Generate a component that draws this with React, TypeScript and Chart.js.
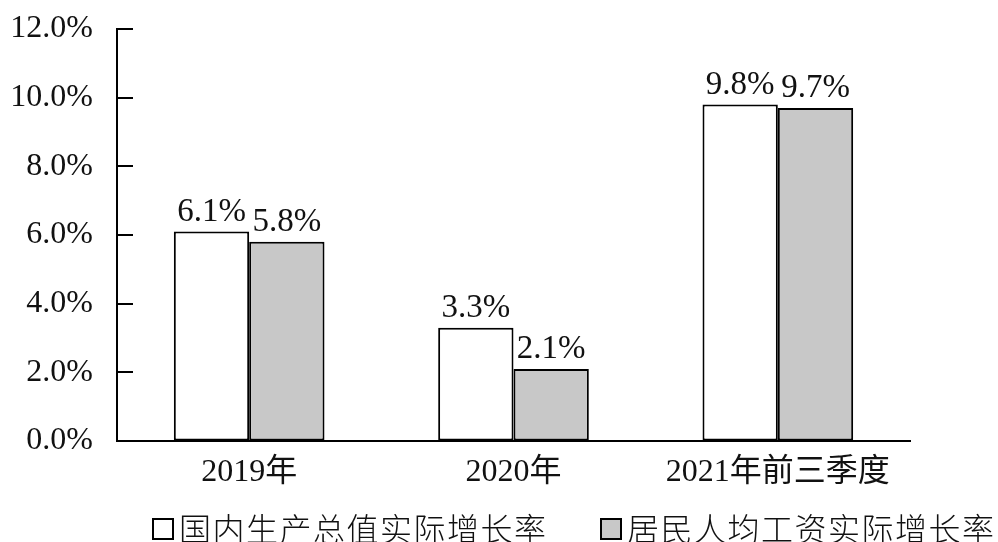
import React, { useEffect, useRef } from "react";
import { Chart, registerables } from "chart.js";

Chart.register(...registerables);

const categories = ["2019年", "2020年", "2021年前三季度"];
const gdpGrowth = [6.1, 3.3, 9.8];
const wageGrowth = [5.8, 2.1, 9.7];
const seriesNames = ["国内生产总值实际增长率", "居民人均工资实际增长率"];
const seriesColors = ["#ffffff", "#c8c8c8"];
const yMin = 0;
const yMax = 12;
const yStep = 2;

const SERIF = '"Liberation Serif", "Times New Roman", "Noto Sans CJK SC", serif';
const CJK = '"Noto Sans CJK SC", "Liberation Serif", sans-serif';

const valueLabelPlugin = {
  id: "valueLabels",
  afterDatasetsDraw(chart: any) {
    const ctx = chart.ctx;
    ctx.save();
    ctx.font = `33px ${SERIF}`;
    ctx.fillStyle = "#111";
    ctx.textAlign = "center";
    ctx.textBaseline = "alphabetic";
    chart.data.datasets.forEach((ds: any, di: number) => {
      const meta = chart.getDatasetMeta(di);
      meta.data.forEach((bar: any, i: number) => {
        const v = ds.data[i];
        ctx.fillText(v.toFixed(1) + "%", bar.x, bar.y - 11);
      });
    });
    ctx.restore();
  },
};

const innerTicksPlugin = {
  id: "innerTicks",
  afterDraw(chart: any) {
    const ctx = chart.ctx;
    const y = chart.scales.y;
    const left = chart.chartArea.left;
    ctx.save();
    ctx.strokeStyle = "#000";
    ctx.lineWidth = 2;
    y.ticks.forEach((t: any) => {
      const py = Math.round(y.getPixelForValue(t.value));
      ctx.beginPath();
      ctx.moveTo(left, py);
      ctx.lineTo(left + 16, py);
      ctx.stroke();
    });
    ctx.restore();
  },
};

const customLegendPlugin = {
  id: "customLegend",
  afterDraw(chart: any) {
    const ctx = chart.ctx;
    const area = chart.chartArea;
    const cy = 529;
    const starts = [area.left + 36, area.left + 484];
    ctx.save();
    ctx.font = `300 32px ${CJK}`;
    (ctx as any).letterSpacing = "1.5px";
    ctx.textBaseline = "middle";
    ctx.textAlign = "left";
    seriesNames.forEach((name, i) => {
      const x = starts[i];
      ctx.fillStyle = seriesColors[i];
      ctx.fillRect(x, cy - 10, 20, 20);
      ctx.strokeStyle = "#000";
      ctx.lineWidth = 2;
      ctx.strokeRect(x, cy - 10, 20, 20);
      ctx.fillStyle = "#111";
      ctx.fillText(name, x + 26, cy);
    });
    ctx.restore();
  },
};

export default function App() {
  const canvasRef = useRef<HTMLCanvasElement | null>(null);

  useEffect(() => {
    const canvas = canvasRef.current;
    if (!canvas) return;
    const chart = new Chart(canvas, {
      type: "bar",
      data: {
        labels: categories,
        datasets: [
          {
            label: seriesNames[0],
            data: gdpGrowth,
            backgroundColor: seriesColors[0],
            borderColor: "#000",
            borderWidth: 2,
            borderSkipped: false,
          },
          {
            label: seriesNames[1],
            data: wageGrowth,
            backgroundColor: seriesColors[1],
            borderColor: "#000",
            borderWidth: 2,
            borderSkipped: false,
          },
        ],
      },
      options: {
        responsive: false,
        animation: false,
        layout: { padding: { top: 29, right: 88, left: 0, bottom: 41 } },
        categoryPercentage: 0.57,
        barPercentage: 1.0,
        plugins: {
          legend: { display: false },
          tooltip: { enabled: false },
        },
        scales: {
          x: {
            grid: { display: true, drawOnChartArea: false, drawTicks: false },
            border: { display: true, color: "#000", width: 2 },
            ticks: {
              color: "#111",
              font: { family: SERIF, size: 32 },
              padding: 12,
              maxRotation: 0,
              autoSkip: false,
            },
            afterFit(scale: any) {
              scale.height = 60;
              scale.paddingLeft = 0;
              scale.paddingRight = 0;
            },
          },
          y: {
            min: yMin,
            max: yMax,
            grid: { display: true, drawOnChartArea: false, drawTicks: false },
            border: { display: true, color: "#000", width: 2 },
            ticks: {
              stepSize: yStep,
              color: "#111",
              font: { family: SERIF, size: 32 },
              padding: 24,
              callback: (v: any) => Number(v).toFixed(1) + "%",
            },
            afterFit(scale: any) {
              scale.width = 117;
              scale.paddingTop = 0;
              scale.paddingBottom = 0;
            },
          },
        },
      } as any,
      plugins: [valueLabelPlugin, innerTicksPlugin, customLegendPlugin],
    });
    return () => chart.destroy();
  }, []);

  return (
    <div style={{ position: "absolute", left: 0, top: 0, width: 998, height: 542, background: "#fff" }}>
      <canvas ref={canvasRef} width={998} height={542} style={{ display: "block" }} />
    </div>
  );
}
